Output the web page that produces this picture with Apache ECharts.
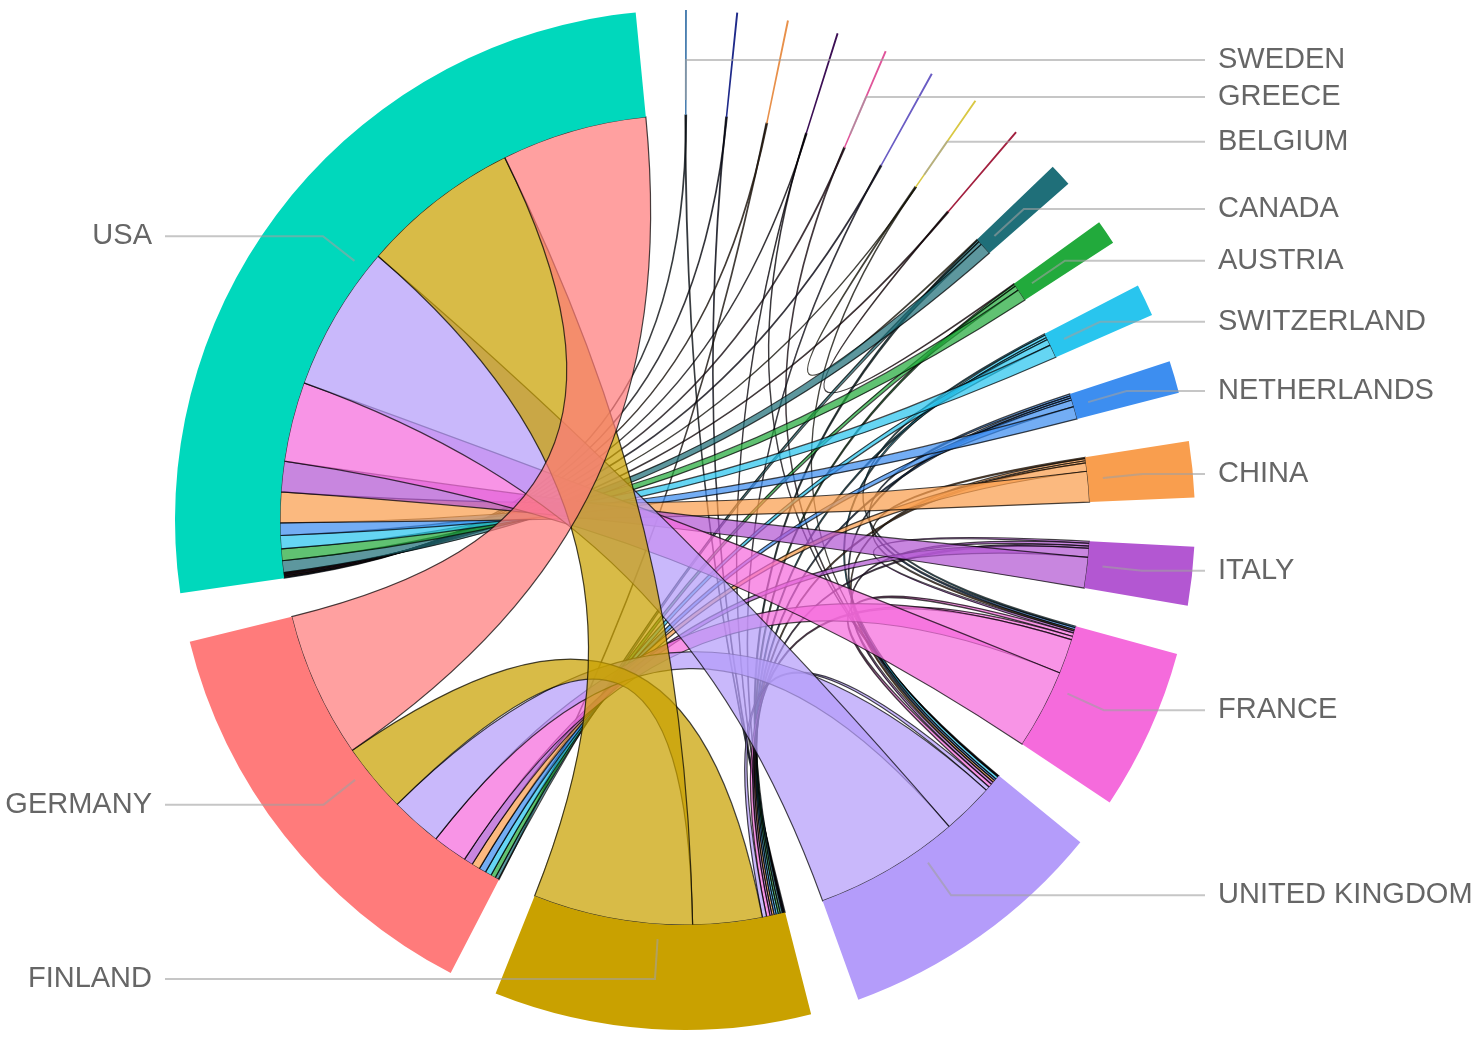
<!DOCTYPE html>
<html>
<head>
<meta charset="utf-8">
<script src="https://cdn.jsdelivr.net/npm/echarts@6/dist/echarts.min.js"></script>
<style>
  html, body { margin: 0; padding: 0; background: #fff; }
  #main { width: 1477px; height: 1040px; }
</style>
</head>
<body>
<div id="main"></div>
<script>
// nodes, clockwise from 12 o'clock (the thin unnamed ones carry no label in the source)
const nodeNames = ['SWEDEN', 'node-2', 'node-3', 'node-4', 'GREECE', 'node-6', 'BELGIUM', 'node-8',
  'CANADA', 'AUSTRIA', 'SWITZERLAND', 'NETHERLANDS', 'CHINA', 'ITALY', 'FRANCE',
  'UNITED KINGDOM', 'FINLAND', 'GERMANY', 'USA'];
const nodeColors = ['#4a7fb0', '#1f2a8a', '#e8904a', '#3c0f55', '#e0559a', '#6a5cc4', '#d9c843', '#a3203f',
  '#1f6f79', '#22aa3c', '#29c5ee', '#3d8ef0', '#f99e4e', '#b357d2', '#f56bdc',
  '#b49cfa', '#c9a100', '#ff7b7b', '#00d8bc'];
const labelledNodes = ['SWEDEN', 'GREECE', 'BELGIUM', 'CANADA', 'AUSTRIA', 'SWITZERLAND', 'NETHERLANDS',
  'CHINA', 'ITALY', 'FRANCE', 'UNITED KINGDOM', 'FINLAND', 'GERMANY', 'USA'];

// links (estimated co-operation strength)
const linkFrom = ['SWEDEN', 'SWEDEN', 'node-2', 'node-2', 'node-3', 'node-3',
  'node-4', 'node-4', 'node-4', 'GREECE', 'GREECE', 'node-6', 'node-6',
  'BELGIUM', 'BELGIUM', 'BELGIUM', 'node-8', 'node-8',
  'CANADA', 'CANADA', 'CANADA', 'AUSTRIA', 'AUSTRIA', 'AUSTRIA',
  'SWITZERLAND', 'SWITZERLAND', 'SWITZERLAND', 'SWITZERLAND', 'SWITZERLAND',
  'NETHERLANDS', 'NETHERLANDS', 'NETHERLANDS', 'NETHERLANDS', 'NETHERLANDS',
  'CHINA', 'CHINA', 'CHINA', 'CHINA', 'CHINA',
  'ITALY', 'ITALY', 'ITALY', 'ITALY', 'ITALY',
  'FRANCE', 'FRANCE', 'FRANCE', 'FRANCE',
  'UNITED KINGDOM', 'UNITED KINGDOM', 'UNITED KINGDOM', 'FINLAND', 'FINLAND', 'GERMANY'];
const linkTo = ['FINLAND', 'USA', 'FINLAND', 'USA', 'GERMANY', 'USA',
  'FINLAND', 'UNITED KINGDOM', 'USA', 'UNITED KINGDOM', 'USA', 'FINLAND', 'USA',
  'CANADA', 'UNITED KINGDOM', 'USA', 'AUSTRIA', 'USA',
  'USA', 'GERMANY', 'FINLAND', 'USA', 'GERMANY', 'FINLAND',
  'USA', 'GERMANY', 'FRANCE', 'UNITED KINGDOM', 'FINLAND',
  'USA', 'GERMANY', 'FINLAND', 'UNITED KINGDOM', 'FRANCE',
  'USA', 'GERMANY', 'FINLAND', 'UNITED KINGDOM', 'FRANCE',
  'USA', 'GERMANY', 'FRANCE', 'FINLAND', 'UNITED KINGDOM',
  'USA', 'GERMANY', 'FINLAND', 'UNITED KINGDOM',
  'USA', 'GERMANY', 'FINLAND', 'USA', 'GERMANY', 'USA'];
const linkValue = [0.12, 0.1, 0.12, 0.1, 0.1, 0.12,
  0.07, 0.07, 0.07, 0.1, 0.12, 0.1, 0.12,
  0.12, 0.05, 0.05, 0.1, 0.12,
  1.7, 0.5, 0.3, 1.7, 0.7, 0.3,
  1.9, 0.9, 0.2, 0.4, 0.3,
  1.8, 1.0, 0.3, 0.3, 0.3,
  4.4, 1.2, 0.3, 0.3, 0.2,
  4.4, 1.3, 0.3, 0.3, 0.4,
  11.5, 5.0, 0.5, 0.5,
  21, 7.4, 0.6, 23, 10, 21];

const PAD = 5.55;
const CENTER = [685, 520];
const LABEL_REACH = 520; // horizontal distance from centre to the end of every leader line

const idx = {};
nodeNames.forEach((n, i) => { idx[n] = i; });

// order links so every node lists its partners in clockwise order
const links = linkFrom.map((s, i) => ({ source: s, target: linkTo[i], value: linkValue[i] }));
links.sort((a, b) => {
  const a0 = Math.min(idx[a.source], idx[a.target]), a1 = Math.max(idx[a.source], idx[a.target]);
  const b0 = Math.min(idx[b.source], idx[b.target]), b1 = Math.max(idx[b.source], idx[b.target]);
  return a0 - b0 || a1 - b1;
});

// node totals, used for the label ring
const totals = nodeNames.map(() => 0);
links.forEach(l => { totals[idx[l.source]] += l.value; totals[idx[l.target]] += l.value; });
const sum = totals.reduce((a, b) => a + b, 0);
const padValue = PAD * sum / (360 - PAD * nodeNames.length);

const chart = echarts.init(document.getElementById('main'));
chart.setOption({
  backgroundColor: '#fff',
  animation: false,
  series: [
    {
      type: 'chord',
      center: CENTER,
      radius: [405, 510],
      startAngle: 90,
      clockwise: true,
      padAngle: PAD,
      minAngle: 0,
      label: { show: false },
      itemStyle: { borderWidth: 0, borderRadius: 0 },
      lineStyle: {
        color: 'source', opacity: 0.72, width: 1.2,
        borderColor: 'rgba(30,30,30,0.85)', borderWidth: 1.2, borderType: 'solid'
      },
      data: nodeNames.map((n, i) => ({ name: n, itemStyle: { color: nodeColors[i] } })),
      links: links
    },
    {
      // invisible ring that only carries the labels and their leader lines
      type: 'pie',
      silent: true,
      z: 5,
      center: CENTER,
      radius: [0, 420],
      startAngle: 90 + PAD / 2,
      clockwise: true,
      avoidLabelOverlap: true,
      itemStyle: { color: 'rgba(0,0,0,0)' },
      label: {
        show: true,
        position: 'outside',
        color: '#666',
        fontFamily: 'Liberation Sans, Arial, sans-serif',
        fontSize: 29
      },
      labelLine: {
        show: true,
        length: 40,
        length2: 20,
        lineStyle: { color: 'rgba(160,160,160,0.6)', width: 2 }
      },
      labelLayout: function (params) {
        const pts = params.labelLinePoints;
        if (!pts) return {};
        const right = pts[2][0] >= CENTER[0];
        const endX = right ? CENTER[0] + LABEL_REACH : CENTER[0] - LABEL_REACH;
        return {
          x: right ? endX + 13 : endX - 13,
          y: pts[2][1],
          align: right ? 'left' : 'right',
          verticalAlign: 'middle',
          labelLinePoints: [pts[0], pts[1], [endX, pts[1][1]]]
        };
      },
      data: nodeNames.map((n, i) => {
        const shown = labelledNodes.indexOf(n) >= 0;
        return {
          name: n,
          value: totals[i] + padValue,
          label: { show: shown },
          labelLine: { show: shown }
        };
      })
    }
  ]
});
</script>
</body>
</html>
